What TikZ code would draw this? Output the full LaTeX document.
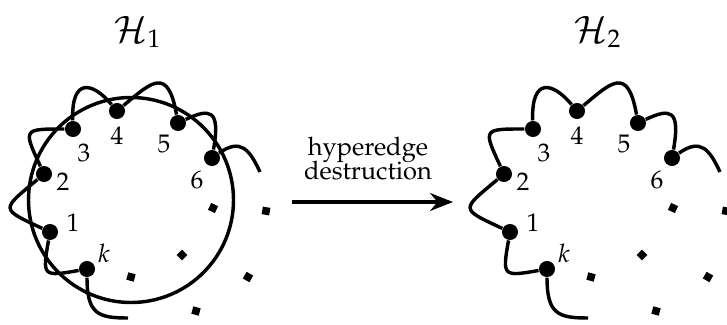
\documentclass[tikz,border=0pt]{standalone}
\usepackage[T1]{fontenc}
\usepackage{mathpazo}
\usepackage{tikz}
\usetikzlibrary{arrows.meta}

\begin{document}
\begin{tikzpicture}[x=0.138mm, y=0.138mm,
  vertex/.style={circle, fill=black, inner sep=0pt, minimum size=6.3pt},
  gap/.style={rectangle, fill=black, inner sep=0pt, minimum size=3pt},
  hedge/.style={line width=1.35pt},
  arr/.style={-{Stealth[length=9pt, width=7pt]}, line width=1.7pt}
]
  \useasboundingbox (0,0) rectangle (727,324);

  % Circle (only in H_1)
  \draw[hedge] (131,124) circle (102.5);

  \foreach \s/\n in {0/1, 460/2} {
    \begin{scope}[shift={(\s,0)}]
      % Title
      \node (t\n) at (138,292) {\Large $\mathcal{H}_\n$};

      % Vertices
      \node[vertex] (v1) at (50,92) {};
      \node[vertex] (v2) at (44,150) {};
      \node[vertex] (v3) at (73,195) {};
      \node[vertex] (v4) at (117,213) {};
      \node[vertex] (v5) at (178,201) {};
      \node[vertex] (v6) at (212,166) {};
      \node[vertex] (vk) at (87,55) {};
      \coordinate (e6) at (260,152);
      \coordinate (ek) at (128,6);

      % Vertex labels
      \node (n1) at (73,101) {1};
      \node (n2) at (63,142) {2};
      \node (n3) at (84,171) {3};
      \node (n4) at (117,188) {4};
      \node (n5) at (164,180) {5};
      \node (n6) at (197,144) {6};
      \node (nk) at (104,71) {$k$};

      % Hyperedges
      \draw[hedge] (ek) .. controls +(180:30) and +(270:45) .. (vk)
        .. controls +(190:45) and +(260:45) .. (v1)
        .. controls +(155:56) and +(220:56) .. (v2)
        .. controls +(115:50) and +(180:50) .. (v3)
        .. controls +(92:52) and +(130:38) .. (v4)
        .. controls +(40:45) and +(100:58) .. (v5)
        .. controls +(25:35) and +(80:50) .. (v6)
        .. controls +(35:35) and +(115:25) .. (e6);

      % Dots for the omitted vertices
      \foreach \x/\y/\r [count=\i] in {213/116/-25, 182/69/45, 131/47/-15,
          266/113/-10, 248/47/-30, 196/13/-15} {
        \node[gap, rotate=\r] (g\i) at (\x,\y) {};
      }
    \end{scope}
  }

  % Operation
  \coordinate (a0) at (292,122);
  \coordinate (a1) at (453,122);
  \draw[arr] (a0) -- (a1);
  \node[align=center] (op) at (368,165) {hyperedge\\[-2.6pt]destruction};
\end{tikzpicture}
\end{document}
